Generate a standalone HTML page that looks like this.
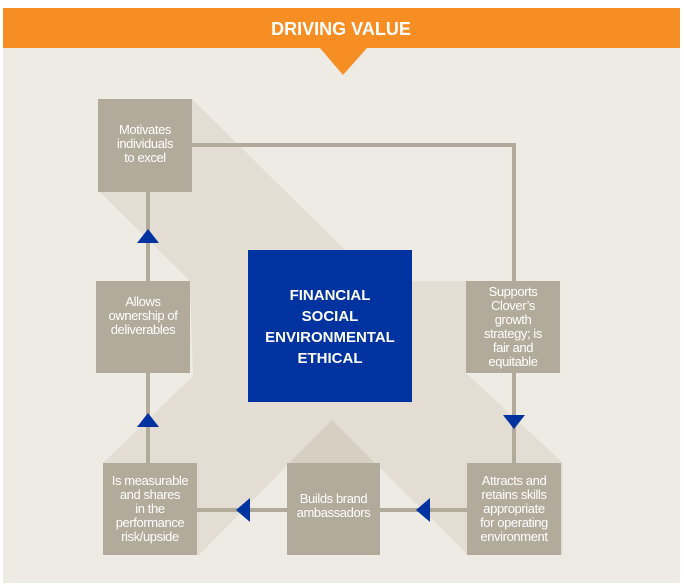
<!DOCTYPE html>
<html><head><meta charset="utf-8"><style>
body{margin:0;width:684px;height:586px;background:#fff;position:relative;overflow:hidden;font-family:"Liberation Sans",sans-serif}
.b{position:absolute;background:#b2aa9a;color:#fff;font-size:13px;line-height:14px;text-align:center;display:flex;align-items:center;justify-content:center;letter-spacing:-0.4px}
</style></head><body>
<svg width="684" height="586" style="position:absolute;left:0;top:0">
<rect x="3" y="48" width="677" height="535" fill="#eeeae4"/>
<rect x="3" y="8" width="677" height="40" fill="#f68e23"/>
<polygon points="320,48 367,48 343,75" fill="#f68e23"/>
<polygon points="98,99 192,99 345,250 412,250 412,281 466,281 466,373 563,463 563,555 197,555 103,463 193,376 190,281 100,192" fill="#e3ddd3"/>
<polygon points="332,420 197,557 470,557" fill="#eeeae4"/>
<polygon points="332,420 289,463 375,463" fill="#d7cfc2"/>
<g stroke="#b2aa9a" stroke-width="4" fill="none">
<polyline points="192,145 514,145 514,463"/>
<line x1="148" y1="192" x2="148" y2="463"/>
<line x1="197" y1="510" x2="467" y2="510"/>
</g>
<g fill="#0033a0">
<polygon points="148,229 137,243 159,243"/>
<polygon points="148,413 137,427 159,427"/>
<polygon points="514,429 503,415 525,415"/>
<polygon points="236,510 250,498 250,522"/>
<polygon points="416,510 430,498 430,522"/>
</g>
<text x="341" y="35" text-anchor="middle" fill="#fff" font-size="18" font-weight="bold" font-family="Liberation Sans">DRIVING VALUE</text>
</svg>
<div class="b" style="left:98px;top:99px;width:94px;height:93px;padding-bottom:4px;box-sizing:border-box">Motivates<br>individuals<br>to excel</div>
<div class="b" style="left:96px;top:281px;width:94px;height:92px;padding-bottom:22px;box-sizing:border-box">Allows<br>ownership of<br>deliverables</div>
<div class="b" style="left:103px;top:463px;width:94px;height:92px">Is measurable<br>and shares<br>in the<br>performance<br>risk/upside</div>
<div class="b" style="left:287px;top:463px;width:93px;height:92px;padding-bottom:6px;box-sizing:border-box">Builds brand<br>ambassadors</div>
<div class="b" style="left:467px;top:463px;width:94px;height:92px">Attracts and<br>retains skills<br>appropriate<br>for operating<br>environment</div>
<div class="b" style="left:466px;top:281px;width:94px;height:92px">Supports<br>Clover’s<br>growth<br>strategy; is<br>fair and<br>equitable</div>
<div style="position:absolute;left:248px;top:250px;width:164px;height:152px;background:#0033a0;color:#fff;font-weight:bold;font-size:15px;line-height:21px;text-align:center;box-sizing:border-box;padding-top:35px">FINANCIAL<br>SOCIAL<br>ENVIRONMENTAL<br>ETHICAL</div>
</body></html>
